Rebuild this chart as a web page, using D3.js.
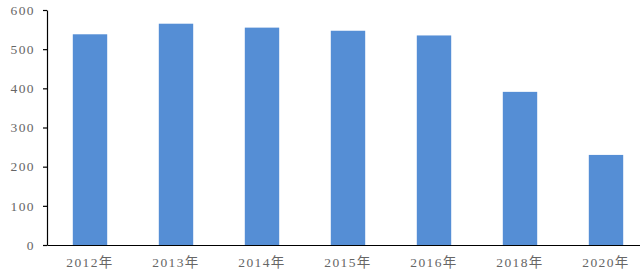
<!DOCTYPE html>
<html>
<head>
<meta charset="utf-8">
<script src="https://cdn.jsdelivr.net/npm/d3@7"></script>
<style>
  body { margin: 0; background: #fff; }
  .axis text { font-family: "Liberation Serif", "Noto Sans CJK SC", serif; font-size: 13.5px; fill: #666; letter-spacing: 1.4px; }
  .axis path, .axis line { stroke: #000; stroke-width: 1.2; }
</style>
</head>
<body>
<div class="contents"></div>
<script>
var years = ["2012年", "2013年", "2014年", "2015年", "2016年", "2018年", "2020年"];
var values = [538, 565, 555, 547, 535, 391, 230];
var yTicks = [0, 100, 200, 300, 400, 500, 600];

var svgWidth = 640, svgHeight = 280;
var margin = { top: 10, right: -9, bottom: 35, left: 47 };
var width = svgWidth - margin.left - margin.right,
    height = svgHeight - margin.top - margin.bottom;

var svg = d3.select(".contents").append("svg")
    .attr("width", svgWidth)
    .attr("height", svgHeight);

var g = svg.append("g")
    .attr("transform", "translate(" + margin.left + "," + margin.top + ")");

var x = d3.scaleBand()
    .domain(years)
    .range([0, width])
    .paddingInner(0.6)
    .paddingOuter(0.3);

var y = d3.scaleLinear()
    .domain([0, 600])
    .range([height, 0]);

// bars
g.selectAll(".bar")
    .data(values)
    .enter().append("rect")
    .attr("class", "bar")
    .attr("x", function(d, i) { return x(years[i]); })
    .attr("y", function(d) { return y(d); })
    .attr("width", x.bandwidth())
    .attr("height", function(d) { return height - y(d); })
    .attr("fill", "#558ed5");

// y axis
var yAxis = d3.axisLeft(y).tickValues(yTicks).tickSize(4).tickSizeOuter(0).tickPadding(8);
g.append("g")
    .attr("class", "y axis")
    .call(yAxis);

// x axis, no tick marks
var xAxis = d3.axisBottom(x).tickSize(0).tickSizeOuter(0).tickPadding(12);
g.append("g")
    .attr("class", "x axis")
    .attr("transform", "translate(0," + height + ")")
    .call(xAxis)
    .selectAll("text")
    .attr("dy", "0.71em");
</script>
</body>
</html>
